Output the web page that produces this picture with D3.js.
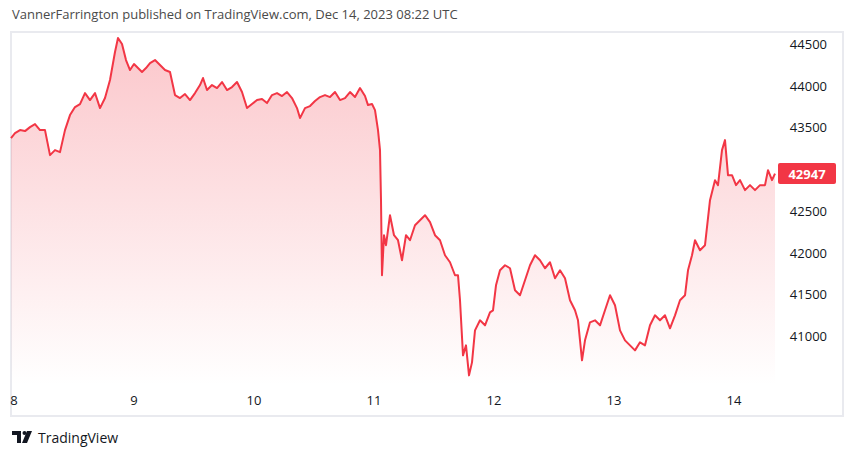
<!DOCTYPE html>
<html><head><meta charset="utf-8">
<script src="https://cdn.jsdelivr.net/npm/d3@7"></script>
<style>body{margin:0;background:#fff;} text{font-family:"Open Sans","Noto Sans",sans-serif;}</style>
</head><body><div id="chart"></div>
<script>
// hours since Dec 8 00:00 UTC
const hours = [-0.6,0.2,1.2,2.2,3.2,4.2,5.2,6.2,7.2,8.2,9.2,10.2,11.2,12.2,13.2,14.2,15.2,16.2,17.2,18.2,19.2,20.2,20.8,21.6,22.4,23.2,24,24.8,25.6,26.4,27.2,28.2,29.2,30.2,31.2,32.2,33.2,34.2,35.2,36.2,37.2,37.8,38.6,39.6,40.6,41.6,42.6,43.6,44.6,45.6,46.6,47.6,48.6,49.6,50.6,51.6,52.6,53.6,54.6,55.6,56.6,57.2,58.2,59.2,60.2,61.2,62.2,63.2,64.2,65.2,66.2,67.2,68.2,69.2,70.2,70.8,71.6,72.2,72.8,73.2,73.4,73.6,74,74.4,75.2,76,76.8,77.6,78.4,79.2,80.2,81.2,82.2,83.2,84.2,85.2,86.2,87.2,88.2,88.8,89.2,89.8,90.4,91,91.6,92.2,93.2,94.2,95.2,95.8,96.4,97.2,98.2,99.2,100.2,101.2,102.2,103.2,104.2,105.2,106.2,107.2,108.2,109.2,110.2,111.2,112.2,112.8,113.6,114.2,115.2,116.2,117.2,118.2,119.2,120.2,121.2,122.2,123.2,124.2,125.2,126.2,127.2,128.2,129.2,130.2,131.2,132.2,133.2,134.2,134.8,135.6,136.2,137.2,138.2,139.2,140.2,140.8,141.6,142.2,142.8,143.6,144.4,145.2,146.2,147.2,148.2,149.2,150.2,150.8,151.6,152.2];
const prices = [43372,43432,43468,43456,43504,43540,43468,43468,43168,43228,43204,43468,43648,43744,43780,43912,43828,43912,43732,43852,44068,44404,44572,44500,44308,44188,44260,44212,44164,44212,44272,44308,44248,44188,44164,43888,43852,43900,43828,43912,44008,44092,43948,44008,43972,44044,43948,43984,44044,43924,43732,43780,43828,43840,43792,43888,43912,43876,43924,43852,43732,43612,43732,43756,43816,43864,43888,43864,43924,43828,43852,43924,43864,43972,43876,43768,43780,43708,43468,43228,42628,41728,42208,42088,42448,42208,42148,41908,42208,42148,42328,42388,42448,42364,42208,42148,41968,41884,41728,41728,41428,40768,40888,40528,40684,41068,41188,41128,41284,41308,41608,41788,41848,41812,41548,41488,41668,41848,41968,41908,41812,41884,41692,41788,41692,41428,41308,41188,40708,40948,41164,41188,41128,41308,41488,41368,41068,40948,40888,40828,40924,40888,41128,41248,41188,41248,41092,41248,41428,41488,41788,41968,42148,42028,42088,42628,42868,42808,43228,43348,42928,42928,42808,42868,42748,42808,42748,42808,42808,42988,42868,42947];
const priceTicks = [41000,41500,42000,42500,43000,43500,44000,44500];
const dayTicks = [0,24,48,72,96,120,144];
const dayLabels = ["8","9","10","11","12","13","14"];
const lastPrice = 42947;

const W = 855, H = 459;
const data = hours.map((h,i)=>({h, p: prices[i]})).filter(d=>d.p!==undefined);
const svg = d3.select("#chart").append("svg").attr("width",W).attr("height",H);

const x = d3.scaleLinear().domain([0,144]).range([14,734]);
const y = d3.scaleLinear().domain([41000,44500]).range([336,44]);
const plotBottom = 385;

svg.append("text").attr("x",12).attr("y",19).attr("font-size",13).attr("fill","#4a4a4a")
  .text("VannerFarrington published on TradingView.com, Dec 14, 2023 08:22 UTC");

svg.append("rect").attr("x",11).attr("y",32).attr("width",832).attr("height",384)
  .attr("fill","none").attr("stroke","#e9eaef").attr("stroke-width",2);

const grad = svg.append("defs").append("linearGradient").attr("id","g")
  .attr("gradientUnits","userSpaceOnUse").attr("x1",0).attr("x2",0).attr("y1",40).attr("y2",plotBottom);
grad.append("stop").attr("offset","0").attr("stop-color","#f23645").attr("stop-opacity",0.28);
grad.append("stop").attr("offset","1").attr("stop-color","#f23645").attr("stop-opacity",0.0);

svg.append("path").datum(data)
  .attr("d", d3.area().x(d=>x(d.h)).y0(plotBottom).y1(d=>y(d.p)))
  .attr("fill","url(#g)");
svg.append("path").datum(data)
  .attr("d", d3.line().x(d=>x(d.h)).y(d=>y(d.p)))
  .attr("fill","none").attr("stroke","#f23645").attr("stroke-width",2).attr("stroke-linejoin","round");

const yAxis = svg.append("g");
priceTicks.filter(t=>t!==43000).forEach(t=>{
  yAxis.append("text").attr("x",827).attr("y",y(t)+5).attr("text-anchor","end")
    .attr("font-size",13).attr("fill","#131722").text(t);
});
dayTicks.forEach((t,i)=>{
  svg.append("text").attr("x",x(t)).attr("y",405).attr("text-anchor","middle")
    .attr("font-size",13).attr("fill","#131722").text(dayLabels[i]);
});

svg.append("rect").attr("x",778).attr("y",y(lastPrice)-10.5).attr("width",58).attr("height",21)
  .attr("rx",2).attr("fill","#f23645");
svg.append("text").attr("x",807).attr("y",y(lastPrice)+5).attr("text-anchor","middle")
  .attr("font-size",13).attr("font-weight","bold").attr("fill","#fff").text(lastPrice);

// logo
const logo = svg.append("g").attr("transform","translate(12,431)").attr("fill","#131722");
logo.append("path").attr("d","M0 0H9V12H5V4H0Z");
logo.append("circle").attr("cx",12.5).attr("cy",2).attr("r",2);
logo.append("path").attr("d","M15 0H20L15 12H10Z");
svg.append("text").attr("x",38).attr("y",443).attr("font-size",14).attr("fill","#131722").text("TradingView");
</script></body></html>
